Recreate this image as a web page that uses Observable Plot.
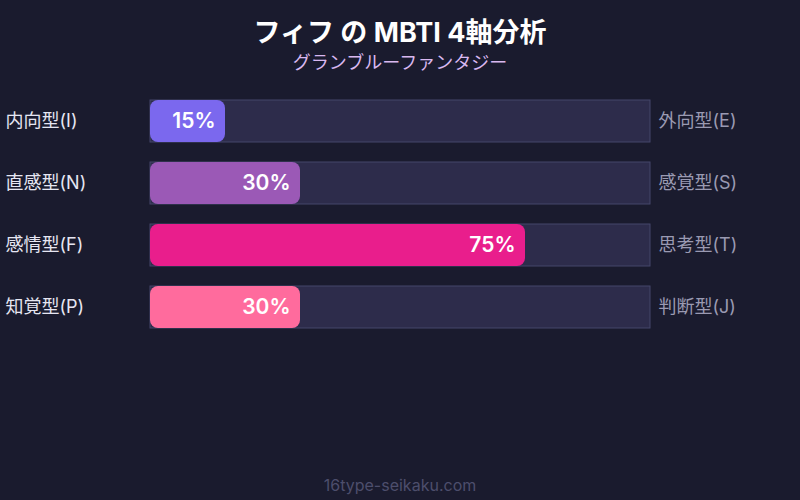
<!DOCTYPE html>
<html><head><meta charset="utf-8">
<script src="https://cdn.jsdelivr.net/npm/d3@7"></script>
<script src="https://cdn.jsdelivr.net/npm/@observablehq/plot@0.6"></script>
<style>
html,body{margin:0;padding:0;background:#1a1b2e;width:800px;height:500px;overflow:hidden;font-family:Inter,"Noto Sans CJK JP","Noto Sans",sans-serif;}
#head{height:80px;position:relative;}
#title{position:absolute;left:0;right:0;top:14px;text-align:center;color:#ffffff;font-weight:700;font-size:27px;line-height:38px;}
#sub{position:absolute;left:0;right:0;top:51px;text-align:center;color:#d9b8f0;font-size:18px;line-height:24px;}
#foot{position:absolute;left:0;right:0;top:473px;text-align:center;color:#4d4e6c;font-size:16px;line-height:24px;}
#chart{position:absolute;top:80px;left:0;}
</style></head>
<body>
<div id="head"><div id="title">フィフ の MBTI 4軸分析</div><div id="sub">グランブルーファンタジー</div></div>
<div id="chart"></div>
<div id="foot">16type-seikaku.com</div>
<script>
const leftLabels = ["内向型(I)", "直感型(N)", "感情型(F)", "知覚型(P)"];
const rightLabels = ["外向型(E)", "感覚型(S)", "思考型(T)", "判断型(J)"];
const values = [15, 30, 75, 30];
const colors = ["#7b68ee", "#9b59b6", "#e91e8c", "#ff6b9d"];

const data = leftLabels.map((l, i) => ({left: l, right: rightLabels[i], value: values[i], color: colors[i]}));

const chart = Plot.plot({
  width: 800,
  height: 380,
  marginLeft: 0, marginRight: 0, marginTop: 0, marginBottom: 0,
  style: {background: "transparent", fontFamily: "Inter,'Noto Sans CJK JP','Noto Sans',sans-serif"},
  x: {domain: [0, 100], range: [150, 650], axis: null},
  y: {domain: leftLabels, range: [20, 248], paddingInner: 20/62, paddingOuter: 0, axis: null},
  marks: [
    Plot.barX(data, {y: "left", x1: 0, x2: 100, fill: "#2d2c4b", stroke: "#44466a", strokeWidth: 1}),
    Plot.barX(data, {y: "left", x1: 0, x2: "value", fill: "color", rx: 8}),
    Plot.text(data, {y: "left", x: "value", text: d => d.value + "%", dx: -10, textAnchor: "end", fill: "#ffffff", fontSize: 21, fontWeight: 600}),
    Plot.text(data, {y: "left", text: "left", frameAnchor: "left", dx: 5, textAnchor: "start", fill: "#e6e6f2", fontSize: 18}),
    Plot.text(data, {y: "left", x: 100, text: "right", dx: 8, textAnchor: "start", fill: "#9a9ab2", fontSize: 18})
  ]
});
document.getElementById("chart").appendChild(chart);
</script>
</body></html>
